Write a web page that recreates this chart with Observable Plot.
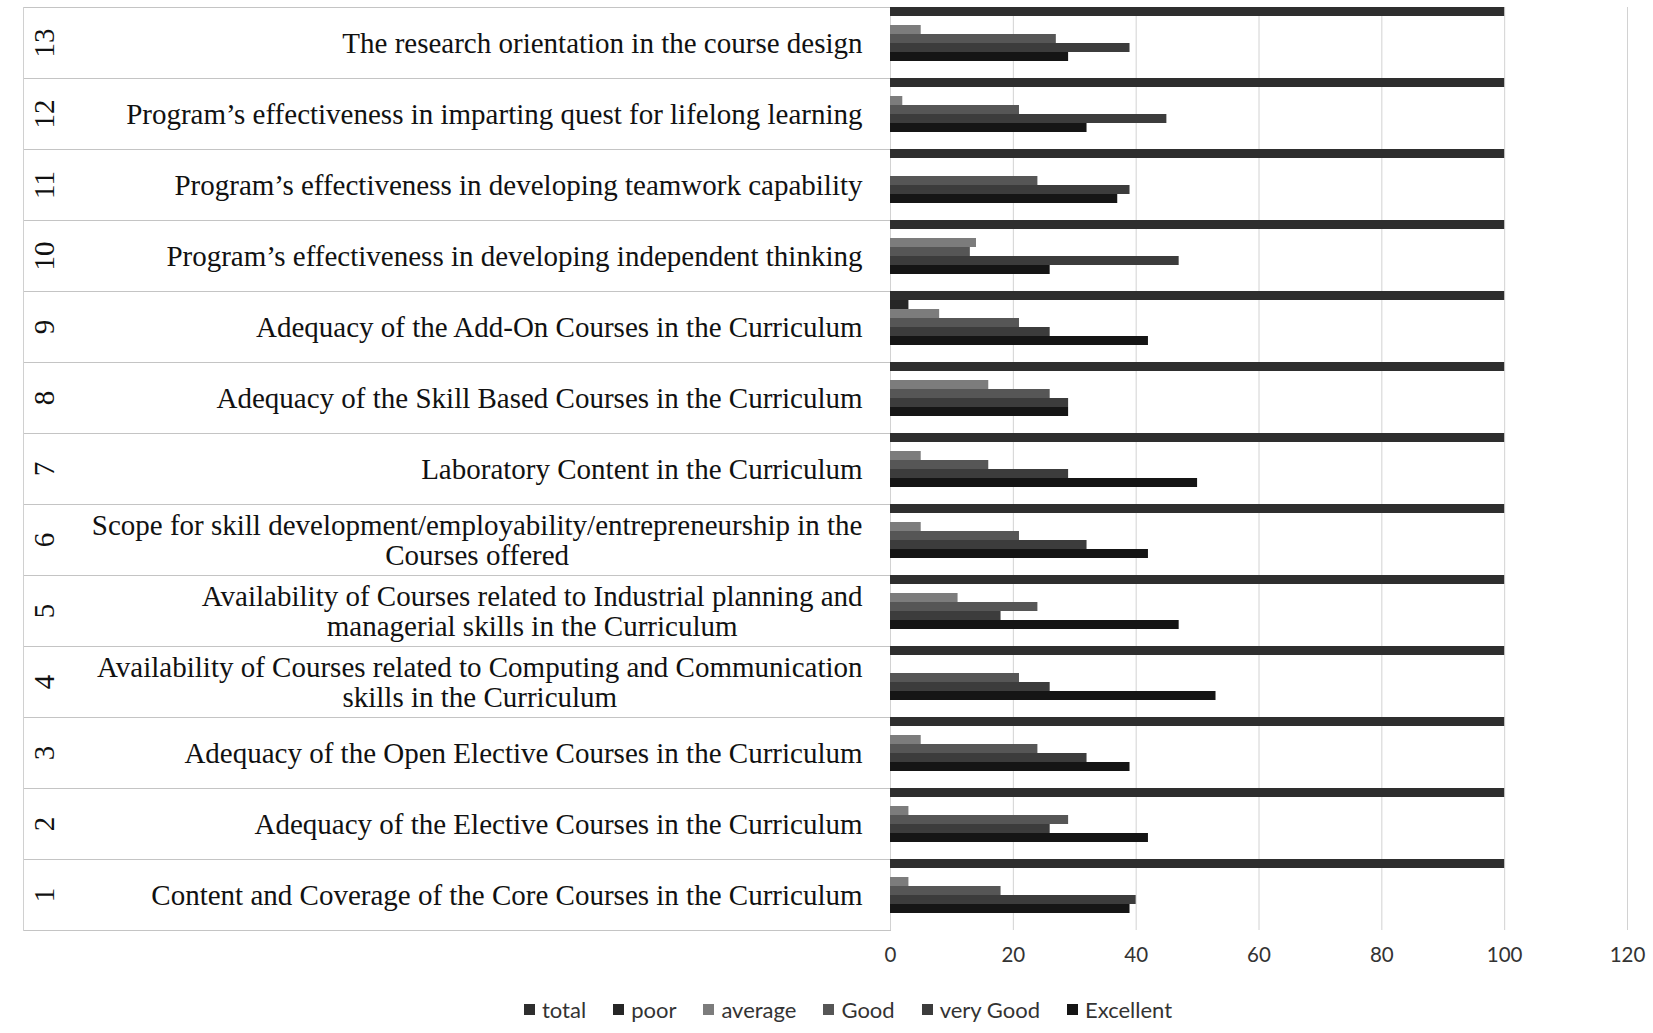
<!DOCTYPE html>
<html><head><meta charset="utf-8">
<script src="https://cdn.jsdelivr.net/npm/d3@7"></script>
<script src="https://cdn.jsdelivr.net/npm/@observablehq/plot@0.6"></script>
<style>
body{margin:0;background:#fff;}
#wrap{position:relative;width:1653px;height:1033px;overflow:hidden;}
#legend{position:absolute;top:996px;left:524px;display:flex;gap:27px;font-family:Lato,"Open Sans",sans-serif;font-size:22px;color:#333;}
.item{display:flex;align-items:center;gap:7px}
.sw{width:11px;height:11px;display:inline-block}
</style></head><body><div id="wrap"><div id="chart"></div><div id="legend"></div></div>
<script>
const categories = [1,2,3,4,5,6,7,8,9,10,11,12,13];
const labels = [
  "Content and Coverage of the Core Courses in the Curriculum",
  "Adequacy of the Elective Courses in the Curriculum",
  "Adequacy of the Open Elective Courses in the Curriculum",
  "Availability of Courses related to Computing and Communication\nskills in the Curriculum",
  "Availability of Courses related to Industrial planning and\nmanagerial skills in the Curriculum",
  "Scope for skill development/employability/entrepreneurship in the\nCourses offered",
  "Laboratory Content in the Curriculum",
  "Adequacy of the Skill Based Courses in the Curriculum",
  "Adequacy of the Add-On Courses in the Curriculum",
  "Program\u2019s effectiveness in developing independent thinking",
  "Program\u2019s effectiveness in developing teamwork capability",
  "Program\u2019s effectiveness in imparting quest for lifelong learning",
  "The research orientation in the course design"
];
const series = ["total","poor","average","Good","very Good","Excellent"];
const total     = [100,100,100,100,100,100,100,100,100,100,100,100,100];
const poor      = [0,0,0,0,0,0,0,0,3,0,0,0,0];
const average   = [3,3,5,0,11,5,5,16,8,14,0,2,5];
const good      = [18,29,24,21,24,21,16,26,21,13,24,21,27];
const veryGood  = [40,26,32,26,18,32,29,29,26,47,39,45,39];
const excellent = [39,42,39,53,47,42,50,29,42,26,37,32,29];
const colors = ["#2e2e2e","#262626","#7c7c7c","#565656","#3c3c3c","#151515"];
const xTicks = [0,20,40,60,80,100,120];

const valueSets = [total, poor, average, good, veryGood, excellent];
const rows = [];
categories.forEach((c,i) => series.forEach((s,j) => rows.push({cat:c, series:s, value:valueSets[j][i]})));
const labelRows = categories.map((c,i) => ({cat:c, label:labels[i], num:String(c)}));

const plot = Plot.plot({
  width:1653, height:975,
  marginLeft:890, marginRight:26, marginTop:5, marginBottom:43,
  style:{background:"transparent", overflow:"visible"},
  x:{domain:[0,120], axis:null},
  fy:{domain:[...categories].reverse(), padding:0, axis:null},
  y:{domain:series, paddingInner:0, paddingOuter:0.84, align:0, axis:null},
  color:{domain:series, range:colors},
  marks:[
    Plot.gridX(xTicks, {stroke:"#d2d2d2", strokeOpacity:1, strokeWidth:1}),
    Plot.frame({anchor:"top", stroke:"#c4c4c4", insetLeft:-867, insetRight:737}),
    Plot.frame({anchor:"bottom", stroke:"#c4c4c4", insetLeft:-867, insetRight:737}),
    Plot.frame({anchor:"left", stroke:"#d0d0d0", insetLeft:-867}),
    Plot.barX(rows, {x:"value", y:"series", fy:"cat", fill:"series"}),
    Plot.text(labelRows, {fy:"cat", text:"label", frameAnchor:"left", dx:-28, textAnchor:"end", lineAnchor:"middle", lineHeight:1.05, fontSize:29, fontFamily:"Liberation Serif", fill:"#111", className:"catlabel"}),
    Plot.text(labelRows, {fy:"cat", text:"num", frameAnchor:"left", dx:-846, rotate:-90, textAnchor:"middle", fontSize:29, fontFamily:"Liberation Serif", fill:"#111"}),
    Plot.axisX({ticks:xTicks, tickSize:0, tickPadding:17, fontSize:20.5, fontFamily:"Lato", fill:"#333", label:null})
  ]
});
document.getElementById("chart").append(plot);

// center multi-line labels within their right-aligned block
plot.querySelectorAll(".catlabel text").forEach(t => {
  const spans = t.querySelectorAll("tspan");
  if (spans.length > 1) {
    const w = Math.max(...[...spans].map(s => s.getComputedTextLength()));
    t.setAttribute("text-anchor", "middle");
    spans.forEach(s => s.setAttribute("x", -w/2));
  }
});

const legend = document.getElementById("legend");
series.forEach((s,i) => {
  const it = document.createElement("div"); it.className = "item";
  const sw = document.createElement("span"); sw.className = "sw"; sw.style.background = colors[i];
  const tx = document.createElement("span"); tx.textContent = s;
  it.append(sw, tx); legend.append(it);
});
</script></body></html>
